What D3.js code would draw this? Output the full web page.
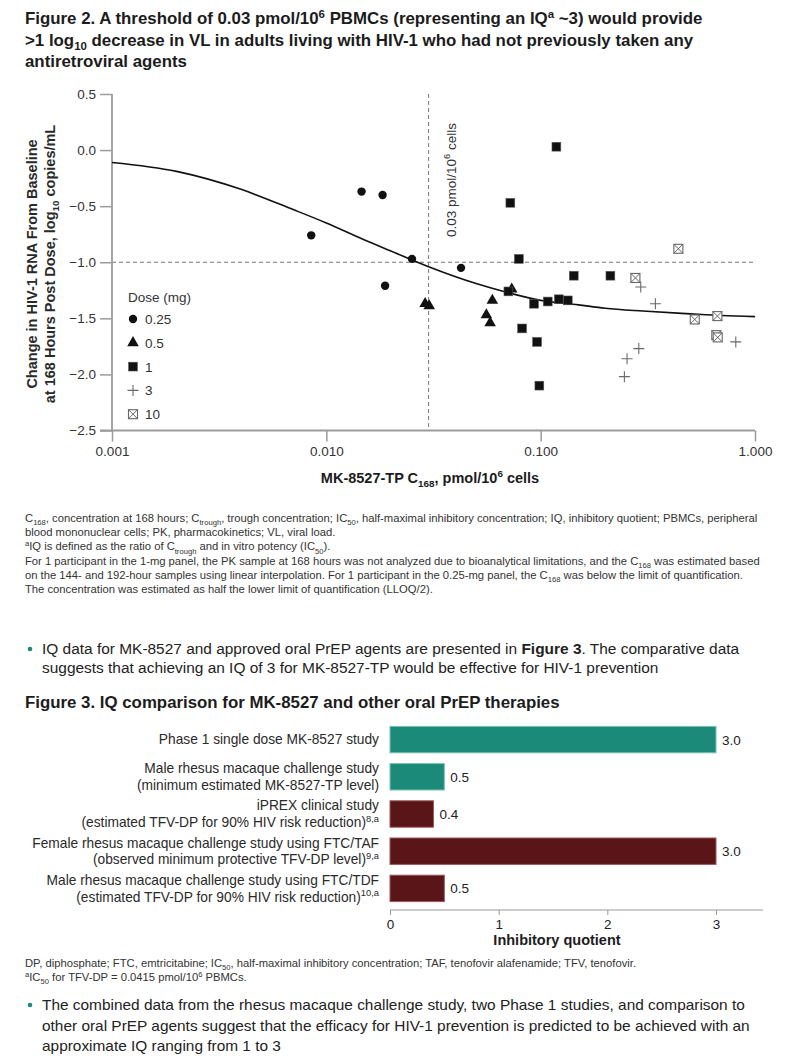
<!DOCTYPE html>
<html><head><meta charset="utf-8">
<script src="https://cdn.jsdelivr.net/npm/d3@7"></script>
<style>body{margin:0;background:#fff} svg{display:block} text{font-family:"Liberation Sans",Arial,sans-serif}</style>
</head><body>
<svg id="c" width="805" height="1061"></svg>
<script>
// ---------- Figure 2 data (C168 pmol/10^6 cells, change in log10 VL) ----------
const dose025 = [[0.0146,-0.37],[0.0183,-0.40],[0.0085,-0.76],[0.0251,-0.97],[0.0188,-1.21],[0.0425,-1.05]];
const dose05  = [[0.0289,-1.37],[0.0302,-1.39],[0.0595,-1.34],[0.0558,-1.47],[0.0581,-1.54],[0.0733,-1.24]];
const dose1   = [[0.1184,0.03],[0.0722,-0.47],[0.0791,-0.97],[0.1427,-1.12],[0.2115,-1.12],[0.0707,-1.26],
                 [0.0931,-1.37],[0.1079,-1.35],[0.1215,-1.33],[0.1338,-1.34],[0.0819,-1.59],[0.0962,-1.71],[0.0986,-2.10]];
const dose3   = [[0.293,-1.22],[0.343,-1.37],[0.8135,-1.71],[0.287,-1.77],[0.253,-1.86],[0.2458,-2.02]];
const dose10  = [[0.439,-0.88],[0.2767,-1.14],[0.5236,-1.51],[0.6678,-1.48],[0.66,-1.65],[0.67,-1.67]];
const fitCurve = [[0.001,-0.11],[0.002,-0.19],[0.004,-0.35],[0.007,-0.53],[0.01,-0.65],[0.015,-0.80],[0.02,-0.90],
                  [0.03,-1.04],[0.05,-1.19],[0.07,-1.27],[0.1,-1.34],[0.15,-1.38],[0.2,-1.41],[0.3,-1.435],
                  [0.5,-1.46],[0.7,-1.475],[1.0,-1.485]];
const xTicks = [0.001,0.01,0.1,1];
const xTickLabels = ["0.001","0.010","0.100","1.000"];
const yTicks = [0.5,0.0,-0.5,-1.0,-1.5,-2.0,-2.5];
const thresholdC = 0.03, thresholdVL = -1.0;
const legendLabels = ["0.25","0.5","1","3","10"];

// ---------- Figure 3 data ----------
const barCategories = [
  ["Phase 1 single dose MK-8527 study"],
  ["Male rhesus macaque challenge study", "(minimum estimated MK-8527-TP level)"],
  ["iPREX clinical study", "(estimated TFV-DP for 90% HIV risk reduction){^8,a}"],
  ["Female rhesus macaque challenge study using FTC/TAF", "(observed minimum protective TFV-DP level){^9,a}"],
  ["Male rhesus macaque challenge study using FTC/TDF", "(estimated TFV-DP for 90% HIV risk reduction){^10,a}"]
];
const iqValues = [3.0, 0.5, 0.4, 3.0, 0.5];
const barAgent = ["MK-8527","MK-8527","TFV-DP","TFV-DP","TFV-DP"];
const barTicks = [0,1,2,3];

// ---------- text ----------
const titleLines = [
  "Figure 2. A threshold of 0.03 pmol/10{^6} PBMCs (representing an IQ{^a} ~3) would provide",
  ">1 log{_10} decrease in VL in adults living with HIV-1 who had not previously taken any",
  "antiretroviral agents"];
const foot1 = [
  "C{_168}, concentration at 168 hours; C{_trough}, trough concentration; IC{_50}, half-maximal inhibitory concentration; IQ, inhibitory quotient; PBMCs, peripheral",
  "blood mononuclear cells; PK, pharmacokinetics; VL, viral load.",
  "{^a}IQ is defined as the ratio of C{_trough} and in vitro potency (IC{_50}).",
  "For 1 participant in the 1-mg panel, the PK sample at 168 hours was not analyzed due to bioanalytical limitations, and the C{_168} was estimated based",
  "on the 144- and 192-hour samples using linear interpolation. For 1 participant in the 0.25-mg panel, the C{_168} was below the limit of quantification.",
  "The concentration was estimated as half the lower limit of quantification (LLOQ/2)."];
const bullet1 = [
  "IQ data for MK-8527 and approved oral PrEP agents are presented in [Figure 3]. The comparative data",
  "suggests that achieving an IQ of 3 for MK-8527-TP would be effective for HIV-1 prevention"];
const fig3Title = "Figure 3. IQ comparison for MK-8527 and other oral PrEP therapies";
const foot2 = [
  "DP, diphosphate; FTC, emtricitabine; IC{_50}, half-maximal inhibitory concentration; TAF, tenofovir alafenamide; TFV, tenofovir.",
  "{^a}IC{_50} for TFV-DP = 0.0415 pmol/10{^6} PBMCs."];
const bullet2 = [
  "The combined data from the rhesus macaque challenge study, two Phase 1 studies, and comparison to",
  "other oral PrEP agents suggest that the efficacy for HIV-1 prevention is predicted to be achieved with an",
  "approximate IQ ranging from 1 to 3"];

const svg = d3.select("#c");
svg.append("rect").attr("width",805).attr("height",1061).attr("fill","#fff");
const TEAL = "#1b8a78", MAROON = "#5a1518", INK = "#1c1c1c";

function rich(g, x, y, str, fs, opt={}) {
  const t = g.append("text").attr("x",x).attr("y",y).attr("font-size",fs)
    .attr("fill",opt.color||INK).attr("font-weight",opt.weight||"normal")
    .attr("text-anchor",opt.anchor||"start");
  if (opt.transform) t.attr("transform",opt.transform);
  const re = /\{([_^])([^}]*)\}|\[([^\]]*)\]/g; let last=0, m; const parts=[];
  while ((m = re.exec(str))) {
    if (m.index > last) parts.push({t:str.slice(last,m.index)});
    if (m[3] !== undefined) parts.push({t:m[3], b:true}); else parts.push({t:m[2], k:m[1]});
    last = re.lastIndex;
  }
  if (last < str.length) parts.push({t:str.slice(last)});
  let shift = 0;
  parts.forEach(p => {
    const ts = t.append("tspan").text(p.t);
    const target = p.k==="_" ? fs*0.28 : p.k==="^" ? -fs*0.38 : 0;
    if (target-shift) ts.attr("dy", target-shift);
    shift = target;
    if (p.k) ts.attr("font-size", fs*0.68);
    if (p.b) ts.attr("font-weight","bold");
  });
  return t;
}
function fitSize(str, fs, target, weight) {
  const t = rich(svg, 0, -100, str, fs, {weight});
  const w = t.node().getComputedTextLength(); t.remove();
  return fs*target/w;
}

// ---------- title ----------
const tfs = fitSize(titleLines[0], 16, 678, "bold");
titleLines.forEach((s,i)=> rich(svg, 25, [24,45.5,66.5][i], s, tfs, {weight:"bold"}));

// ---------- Figure 2 scatter ----------
const x = d3.scaleLog().domain([0.001,1]).range([112,755]);
const y = d3.scaleLinear().domain([-2.5,0.5]).range([430.5,94]);
const AX = "#9c9c9c";
const g2 = svg.append("g");

// reference lines
g2.append("line").attr("x1",x(0.001)).attr("x2",x(1)).attr("y1",y(thresholdVL)).attr("y2",y(thresholdVL))
  .attr("stroke","#777").attr("stroke-width",1).attr("stroke-dasharray","4,3");
g2.append("line").attr("x1",x(thresholdC)).attr("x2",x(thresholdC)).attr("y1",y(0.5)).attr("y2",y(-2.5))
  .attr("stroke","#777").attr("stroke-width",1).attr("stroke-dasharray","4,3");
rich(g2, 0, 0, "0.03 pmol/10{^6} cells", 13.5, {color:"#333", transform:`translate(${x(thresholdC)+27},237) rotate(-90)`});

// axes
const yAxis = d3.axisLeft(y).tickValues(yTicks).tickSize(12).tickPadding(4)
  .tickFormat(d => d3.format(".1f")(d).replace("-","\u2212"));
const gy = g2.append("g").attr("transform",`translate(${x(0.001)},0)`).call(yAxis);
const xAxis = d3.axisBottom(x).tickValues(xTicks).tickSize(11).tickPadding(5)
  .tickFormat((d,i)=>xTickLabels[i]);
const gx = g2.append("g").attr("transform",`translate(0,${y(-2.5)})`).call(xAxis);
[gx,gy].forEach(a=>{
  a.select(".domain").attr("stroke",AX).attr("stroke-width",1.8);
  a.selectAll(".tick line").attr("stroke",AX).attr("stroke-width",1.5);
  a.selectAll(".tick text").attr("fill","#333").attr("font-size",13.5).attr("font-family","Liberation Sans, Arial, sans-serif");
});
gy.select(".domain").attr("d",`M0,${y(0.5)}V${y(-2.5)}`);
gx.select(".domain").attr("d",`M${x(0.001)-12},0H${x(1)}`);

// fit curve
g2.append("path").datum(fitCurve)
  .attr("d", d3.line().x(d=>x(d[0])).y(d=>y(d[1])).curve(d3.curveMonotoneX))
  .attr("fill","none").attr("stroke","#111").attr("stroke-width",1.6);

// markers
const mk = {
  circle:(g,cx,cy)=>g.append("circle").attr("cx",cx).attr("cy",cy).attr("r",4.2).attr("fill","#111"),
  tri:(g,cx,cy)=>g.append("path").attr("transform",`translate(${cx},${cy})`).attr("d",d3.symbol(d3.symbolTriangle,58)()).attr("fill","#111"),
  square:(g,cx,cy)=>g.append("rect").attr("x",cx-4.4).attr("y",cy-4.4).attr("width",8.8).attr("height",8.8).attr("fill","#111").attr("stroke","#555").attr("stroke-width",0.6),
  plus:(g,cx,cy)=>g.append("path").attr("d",`M${cx-5.5},${cy}H${cx+5.5}M${cx},${cy-5.5}V${cy+5.5}`).attr("stroke","#6a6a6a").attr("stroke-width",1.1).attr("fill","none"),
  boxx:(g,cx,cy)=>{g.append("rect").attr("x",cx-4.5).attr("y",cy-4.5).attr("width",9).attr("height",9).attr("fill","#fff").attr("stroke","#666").attr("stroke-width",1.1);
    g.append("path").attr("d",`M${cx-4.5},${cy-4.5}L${cx+4.5},${cy+4.5}M${cx+4.5},${cy-4.5}L${cx-4.5},${cy+4.5}`).attr("stroke","#666").attr("stroke-width",1);}
};
const series = [[dose025,"circle"],[dose05,"tri"],[dose1,"square"],[dose3,"plus"],[dose10,"boxx"]];
const gm = g2.append("g");
series.forEach(([data,shape]) => data.forEach(d => mk[shape](gm, x(d[0]), y(d[1]))));

// legend
const gl = g2.append("g");
gl.append("text").attr("x",128).attr("y",302).attr("font-size",13.5).attr("fill","#333").text("Dose (mg)");
legendLabels.forEach((l,i)=>{
  const cy = 319 + i*23.8;
  mk[series[i][1]](gl, 133, cy);
  gl.append("text").attr("x",145).attr("y",cy+5).attr("font-size",13.5).attr("fill","#333").text(l);
});

// axis titles
rich(g2, 430, 483, "MK-8527-TP C{_168}, pmol/10{^6} cells", 14.5, {weight:"bold", anchor:"middle", color:INK});
rich(g2, 0, 0, "Change in HIV-1 RNA From Baseline", 14.5, {weight:"bold", anchor:"middle", color:"#2a2a2a", transform:"translate(37,264) rotate(-90)"});
rich(g2, 0, 0, "at 168 Hours Post Dose, log{_10} copies/mL", 14.5, {weight:"bold", anchor:"middle", color:"#2a2a2a", transform:"translate(55,264) rotate(-90)"});

// ---------- footnotes 1 ----------
const f1s = fitSize(foot1[0], 10, 733, "normal");
foot1.forEach((s,i)=> rich(svg, 25, 522 + i*14.2, s, f1s, {color:"#333"}));

// ---------- bullet 1 ----------
const b1s = fitSize(bullet1[0], 14, 698, "normal");
bullet1.forEach((s,i)=> rich(svg, 42, [654,673][i], s, b1s, {color:"#222"}));
svg.append("circle").attr("cx",30).attr("cy",649).attr("r",2.3).attr("fill",TEAL);

// ---------- Figure 3 ----------
const f3s = fitSize(fig3Title, 15, 535, "bold");
rich(svg, 25, 708, fig3Title, f3s, {weight:"bold"});

const xb = d3.scaleLinear().domain([0,3]).range([390,716]);
const yb = d3.scaleBand().domain(d3.range(barCategories.length)).range([721,907]).paddingInner(0.29).paddingOuter(0.145);
const g3 = svg.append("g");
g3.selectAll("rect.bar").data(iqValues).join("rect").attr("class","bar")
  .attr("x",xb(0)).attr("y",(d,i)=>yb(i)).attr("width",d=>xb(d)-xb(0)).attr("height",yb.bandwidth())
  .attr("fill",(d,i)=>barAgent[i]==="MK-8527"?TEAL:MAROON)
  .attr("stroke",(d,i)=>barAgent[i]==="MK-8527"?"#7cc2b5":"#9a5a5a").attr("stroke-width",1);
g3.selectAll("text.val").data(iqValues).join("text").attr("class","val")
  .attr("x",d=>xb(d)+6).attr("y",(d,i)=>yb(i)+yb.bandwidth()/2+5).attr("font-size",13.5).attr("fill","#222")
  .text(d=>d3.format(".1f")(d));
const cls = fitSize(barCategories[3][0], 13, 347, "normal");
barCategories.forEach((lines,i)=>{
  const cy = yb(i)+yb.bandwidth()/2;
  lines.forEach((s,j)=>{
    const yy = cy + (j - (lines.length-1)/2)*16.8 + cls*0.35;
    rich(g3, 379, yy, s, cls, {anchor:"end", color:"#2a2a2a"});
  });
});
const bx = d3.axisBottom(xb).tickValues(barTicks).tickSize(5).tickPadding(4).tickFormat(d3.format("d"));
const gbx = g3.append("g").attr("transform","translate(0,910)").call(bx);
gbx.select(".domain").attr("d",`M${xb(0)},0H763`).attr("stroke","#999").attr("stroke-width",1.2);
gbx.selectAll(".tick line").attr("stroke","#999");
gbx.selectAll(".tick text").attr("font-size",13.5).attr("fill","#222").attr("font-family","Liberation Sans, Arial, sans-serif");
g3.append("text").attr("x",557).attr("y",945).attr("text-anchor","middle").attr("font-size",14.5)
  .attr("font-weight","bold").attr("fill",INK).text("Inhibitory quotient");

// ---------- footnotes 2 ----------
foot2.forEach((s,i)=> rich(svg, 25, [967,981][i], s, f1s, {color:"#333"}));

// ---------- bullet 2 ----------
const b2s = fitSize(bullet2[0], 14, 703, "normal");
bullet2.forEach((s,i)=> rich(svg, 42, [1010,1030.5,1051][i], s, b2s, {color:"#222"}));
svg.append("circle").attr("cx",30).attr("cy",1005).attr("r",2.3).attr("fill",TEAL);
</script>
</body></html>
